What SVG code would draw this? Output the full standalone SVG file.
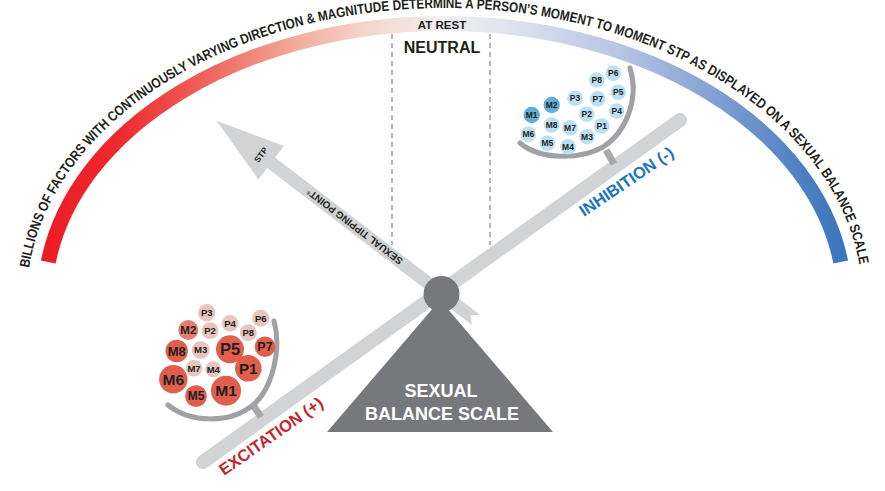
<svg xmlns="http://www.w3.org/2000/svg" width="885" height="491" viewBox="0 0 885 491">
<style>
text{font-family:"Liberation Sans",Arial,sans-serif;font-weight:bold}
.arctext{font-size:14px;fill:#231F20}
.dash{stroke:#6D6E71;stroke-width:1;stroke-dasharray:5 4;fill:none}
.gray{fill:#D1D3D4}
.dark{fill:#77787B}
.bowl{fill:none;stroke:#9FA1A4;stroke-width:5;stroke-linecap:round}
.stem{stroke:#A7A9AC;stroke-width:7}
.red{fill:#E25E4C}
.salmon{fill:#E67D6C}
.pink{fill:#E8C5BF}
.blue{fill:#65ADD6}
.lblue{fill:#BDDFF4}
.bl{fill:#231F20;text-anchor:middle}
</style>
<defs>
<linearGradient id="arcgrad" gradientUnits="userSpaceOnUse" x1="45" y1="0" x2="845" y2="0">
<stop offset="0" stop-color="#ED1C24"/>
<stop offset="0.094" stop-color="#EE2A2E"/>
<stop offset="0.194" stop-color="#EF5F58"/>
<stop offset="0.319" stop-color="#F3AE9C"/>
<stop offset="0.394" stop-color="#F5D3C8"/>
<stop offset="0.494" stop-color="#F2EEF0"/>
<stop offset="0.594" stop-color="#DCE0EE"/>
<stop offset="0.719" stop-color="#B7C4E3"/>
<stop offset="0.844" stop-color="#7F9ED2"/>
<stop offset="0.944" stop-color="#4E80C3"/>
<stop offset="1" stop-color="#3A75BD"/>
</linearGradient>
<path id="textarc" d="M29.02,268 A418,292 0 0 1 444.5,8 A418,292 0 0 1 859.98,268"/>
</defs>

<g id="arc">
<path d="M48.3,262 A400,276.5 0 0 1 444.5,23.5 A400,276.5 0 0 1 840.7,262" fill="none" stroke="url(#arcgrad)" stroke-width="15"/>
<text class="arctext"><textPath href="#textarc" textLength="1056" lengthAdjust="spacingAndGlyphs">BILLIONS OF FACTORS WITH CONTINUOUSLY VARYING DIRECTION &amp; MAGNITUDE DETERMINE A PERSON’S MOMENT TO MOMENT STP AS DISPLAYED ON A SEXUAL BALANCE SCALE</textPath></text>
</g>

<g id="neutral">
<line class="dash" x1="392" y1="34" x2="392" y2="245"/>
<line class="dash" x1="490" y1="34" x2="490" y2="245"/>
<text x="442" y="28.5" font-size="11.5" fill="#231F20" text-anchor="middle">AT REST</text>
<text x="442" y="53" font-size="16" fill="#231F20" text-anchor="middle">NEUTRAL</text>
</g>

<g id="fulcrum">
<polygon class="dark" points="440,300 553,432 327,432"/>
<text x="441" y="397" font-size="18" fill="#FFFFFF" text-anchor="middle">SEXUAL</text>
<text x="442" y="420" font-size="18" fill="#FFFFFF" text-anchor="middle">BALANCE SCALE</text>
</g>

<g id="stp-arrow" transform="translate(441,293) rotate(-142.5)">
<polygon class="gray" points="-44,6.5 214,6.5 214,21 283,0 214,-21 214,-6.5 -44,-6.5 -37,0"/>
<text x="50" y="3.5" font-size="9.8" fill="#231F20">SEXUAL TIPPING POINT<tspan font-size="5" dy="-3">®</tspan></text>
<text transform="translate(227,0) rotate(90)" x="0" y="3" font-size="8.5" fill="#231F20" text-anchor="middle">STP</text>
</g>

<g id="beam">
<line x1="203" y1="462" x2="680" y2="120" stroke="#D1D3D4" stroke-width="14" stroke-linecap="round"/>
<circle class="dark" cx="441.5" cy="294" r="18"/>
</g>

<g id="excitation-pan">
<line class="stem" x1="253" y1="405" x2="261" y2="417"/>
<path class="bowl" d="M168,405 C190,423 230,424 253,405 C272,389 282,350 274,321"/>
<circle class="pink" cx="206.7" cy="312.7" r="8.7"/><text class="bl" x="206.7" y="316.1" font-size="9.5">P3</text>
<circle class="pink" cx="230" cy="323.3" r="8.3"/><text class="bl" x="230" y="326.7" font-size="9.5">P4</text>
<circle class="pink" cx="260.7" cy="318.3" r="8.5"/><text class="bl" x="260.7" y="321.7" font-size="9.5">P6</text>
<circle class="salmon" cx="188.3" cy="330" r="10"/><text class="bl" x="188.3" y="334.1" font-size="11.5">M2</text>
<circle class="pink" cx="210" cy="330.7" r="8.5"/><text class="bl" x="210" y="334.1" font-size="9.5">P2</text>
<circle class="pink" cx="248.3" cy="332.7" r="8.5"/><text class="bl" x="248.3" y="336.1" font-size="9.5">P8</text>
<circle class="red" cx="176.7" cy="351" r="11.2"/><text class="bl" x="176.7" y="355.7" font-size="13">M8</text>
<circle class="pink" cx="200.7" cy="350" r="9"/><text class="bl" x="200.7" y="353.4" font-size="9.5">M3</text>
<circle class="red" cx="230" cy="349.3" r="14"/><text class="bl" x="230" y="355.2" font-size="16.5">P5</text>
<circle class="red" cx="265" cy="346.7" r="10.3"/><text class="bl" x="265" y="351.1" font-size="12.5">P7</text>
<circle class="pink" cx="194" cy="368.3" r="8.3"/><text class="bl" x="194" y="371.7" font-size="9.5">M7</text>
<circle class="pink" cx="213.3" cy="369.3" r="8"/><text class="bl" x="213.3" y="372.7" font-size="9.5">M4</text>
<circle class="red" cx="248.3" cy="368.3" r="13.3"/><text class="bl" x="248.3" y="373.7" font-size="15">P1</text>
<circle class="red" cx="173.3" cy="379.3" r="14.2"/><text class="bl" x="173.3" y="384.9" font-size="15.5">M6</text>
<circle class="red" cx="196" cy="396" r="10.8"/><text class="bl" x="196" y="400.3" font-size="12">M5</text>
<circle class="red" cx="226" cy="390.7" r="15"/><text class="bl" x="226" y="396.3" font-size="15.5">M1</text>
</g>

<g id="inhibition-pan">
<line class="stem" x1="606" y1="150" x2="614" y2="164"/>
<path class="bowl" d="M520,143 C540,160 580,160 603,147 C625,133 640,100 630,68"/>
<circle class="lblue" cx="613.3" cy="73.3" r="7.8"/><text class="bl" x="613.3" y="76.3" font-size="8.5">P6</text>
<circle class="lblue" cx="596.7" cy="80" r="7.8"/><text class="bl" x="596.7" y="83" font-size="8.5">P8</text>
<circle class="lblue" cx="618.3" cy="92.3" r="7.8"/><text class="bl" x="618.3" y="95.3" font-size="8.5">P5</text>
<circle class="lblue" cx="597.7" cy="98.7" r="7.8"/><text class="bl" x="597.7" y="101.7" font-size="8.5">P7</text>
<circle class="lblue" cx="575" cy="98.3" r="7.8"/><text class="bl" x="575" y="101.3" font-size="8.5">P3</text>
<circle class="blue" cx="551.7" cy="105" r="8.2"/><text class="bl" x="551.7" y="108" font-size="8.5">M2</text>
<circle class="lblue" cx="616.7" cy="111" r="7.8"/><text class="bl" x="616.7" y="114" font-size="8.5">P4</text>
<circle class="lblue" cx="586.7" cy="114.3" r="7.8"/><text class="bl" x="586.7" y="117.3" font-size="8.5">P2</text>
<circle class="blue" cx="531.7" cy="115" r="8.2"/><text class="bl" x="531.7" y="118" font-size="8.5">M1</text>
<circle class="lblue" cx="601.7" cy="126" r="7.8"/><text class="bl" x="601.7" y="129" font-size="8.5">P1</text>
<circle class="lblue" cx="551.7" cy="125" r="7.8"/><text class="bl" x="551.7" y="128" font-size="8.5">M8</text>
<circle class="lblue" cx="570" cy="127.7" r="7.8"/><text class="bl" x="570" y="130.7" font-size="8.5">M7</text>
<circle class="lblue" cx="587" cy="136.7" r="7.8"/><text class="bl" x="587" y="139.7" font-size="8.5">M3</text>
<circle class="lblue" cx="528.3" cy="134.3" r="7.8"/><text class="bl" x="528.3" y="137.3" font-size="8.5">M6</text>
<circle class="lblue" cx="547.3" cy="143.3" r="7.8"/><text class="bl" x="547.3" y="146.3" font-size="8.5">M5</text>
<circle class="lblue" cx="568" cy="146.7" r="7.8"/><text class="bl" x="568" y="149.7" font-size="8.5">M4</text>
</g>

<g id="labels">
<text transform="translate(224,476) rotate(-35)" font-size="16.5" fill="#C1272D">EXCITATION (+)</text>
<text transform="translate(584,217) rotate(-34)" font-size="16.5" fill="#1B75BC">INHIBITION (-)</text>
</g>
</svg>
